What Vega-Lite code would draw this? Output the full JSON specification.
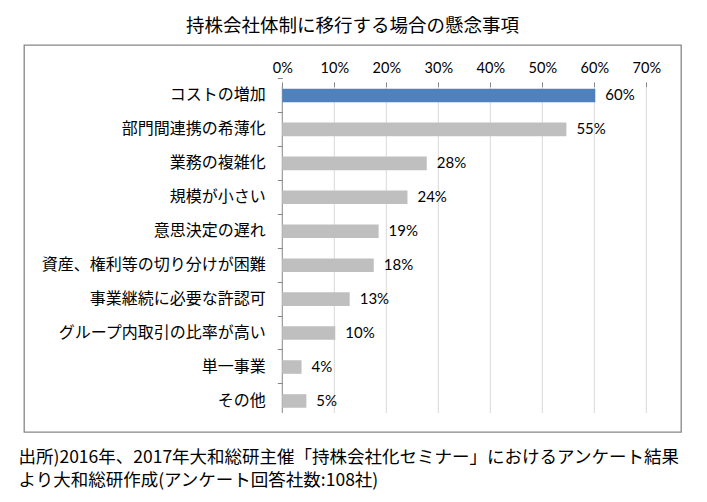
{
  "$schema": "https://vega.github.io/schema/vega-lite/v6.json",
  "width": 657,
  "height": 387,
  "autosize": {"type": "none"},
  "padding": {"left": 24, "top": 45, "right": 26, "bottom": 70},
  "background": "white",
  "title": {
    "text": "持株会社体制に移行する場合の懸念事項",
    "font": "Noto Sans CJK JP",
    "fontSize": 18.5,
    "fontWeight": "normal",
    "color": "#000000",
    "anchor": "middle",
    "baseline": "middle",
    "offset": 1
  },
  "config": {"view": {"stroke": "#868686", "strokeWidth": 1.3}},
  "datasets": {
    "items": [
      {"item": "コストの増加", "share": 0.6019},
      {"item": "部門間連携の希薄化", "share": 0.5463},
      {"item": "業務の複雑化", "share": 0.2778},
      {"item": "規模が小さい", "share": 0.2407},
      {"item": "意思決定の遅れ", "share": 0.1852},
      {"item": "資産、権利等の切り分けが困難", "share": 0.1759},
      {"item": "事業継続に必要な許認可", "share": 0.1296},
      {"item": "グループ内取引の比率が高い", "share": 0.1019},
      {"item": "単一事業", "share": 0.037},
      {"item": "その他", "share": 0.0463}
    ],
    "ticks": [
      {"t": 0}, {"t": 0.1}, {"t": 0.2}, {"t": 0.3}, {"t": 0.4}, {"t": 0.5}, {"t": 0.6}, {"t": 0.7}
    ]
  },
  "layer": [
    {
      "data": {"name": "ticks"},
      "mark": {"type": "rule", "strokeWidth": 1},
      "encoding": {
        "x": {
          "field": "t",
          "type": "quantitative",
          "scale": {"domain": [-0.4967, 0.7667], "nice": false, "zero": false},
          "axis": {
            "orient": "top",
            "offset": -42,
            "values": [0, 0.1, 0.2, 0.3, 0.4, 0.5, 0.6, 0.7],
            "format": ".0%",
            "grid": false,
            "domain": false,
            "tickSize": 5,
            "tickColor": "#868686",
            "labelFont": "Lato",
            "labelFontSize": 14.5,
            "labelColor": "#000000",
            "labelPadding": 7,
            "title": null
          }
        },
        "y": {"datum": 0, "type": "quantitative", "scale": {"domain": [-0.0583, 1.1288], "nice": false, "zero": false}, "axis": null},
        "y2": {"datum": 1},
        "color": {"condition": {"test": "datum.t === 0", "value": "#868686"}, "value": "#D9D9D9"}
      }
    },
    {
      "data": {"name": "items"},
      "mark": {"type": "bar"},
      "encoding": {
        "x": {
          "field": "share",
          "type": "quantitative",
          "axis": {
            "orient": "bottom",
            "domain": false,
            "ticks": false,
            "labels": false,
            "grid": false,
            "title": ["出所)2016年、2017年大和総研主催「持株会社化セミナー」におけるアンケート結果", "より大和総研作成(アンケート回答社数:108社)"],
            "titleFont": "Noto Sans CJK JP",
            "titleFontSize": 17.5,
            "titleFontWeight": "normal",
            "titleColor": "#000000",
            "titleAlign": "left",
            "titleAnchor": "start",
            "titleBaseline": "top",
            "titleLineHeight": 23,
            "titleX": -6,
            "titleY": 16
          }
        },
        "y": {
          "field": "item",
          "type": "nominal",
          "sort": null,
          "scale": {"type": "band", "paddingInner": 0.6, "paddingOuter": 1.2356, "align": 0.643},
          "axis": {
            "orient": "left",
            "offset": -258.3,
            "domain": false,
            "grid": false,
            "tickSize": 5,
            "tickColor": "#868686",
            "bandPosition": -0.754,
            "labelFont": "Noto Sans CJK JP",
            "labelFontSize": 16,
            "labelColor": "#000000",
            "labelPadding": 12,
            "labelLimit": 400,
            "title": null
          }
        },
        "color": {"condition": {"test": "datum.item === 'コストの増加'", "value": "#4F81BD"}, "value": "#BFBFBF"}
      }
    },
    {
      "data": {"name": "items"},
      "mark": {"type": "text", "align": "left", "baseline": "middle", "dx": 10, "font": "Lato", "fontSize": 15, "color": "#000000"},
      "encoding": {
        "x": {"field": "share", "type": "quantitative", "axis": null},
        "y": {
          "field": "item",
          "type": "nominal",
          "sort": null,
          "scale": {"type": "band", "paddingInner": 0.6, "paddingOuter": 1.2356, "align": 0.643},
          "axis": null
        },
        "text": {"field": "share", "type": "quantitative", "format": ".0%"}
      }
    }
  ],
  "resolve": {"scale": {"y": "independent"}, "axis": {"x": "independent", "y": "independent"}}
}
